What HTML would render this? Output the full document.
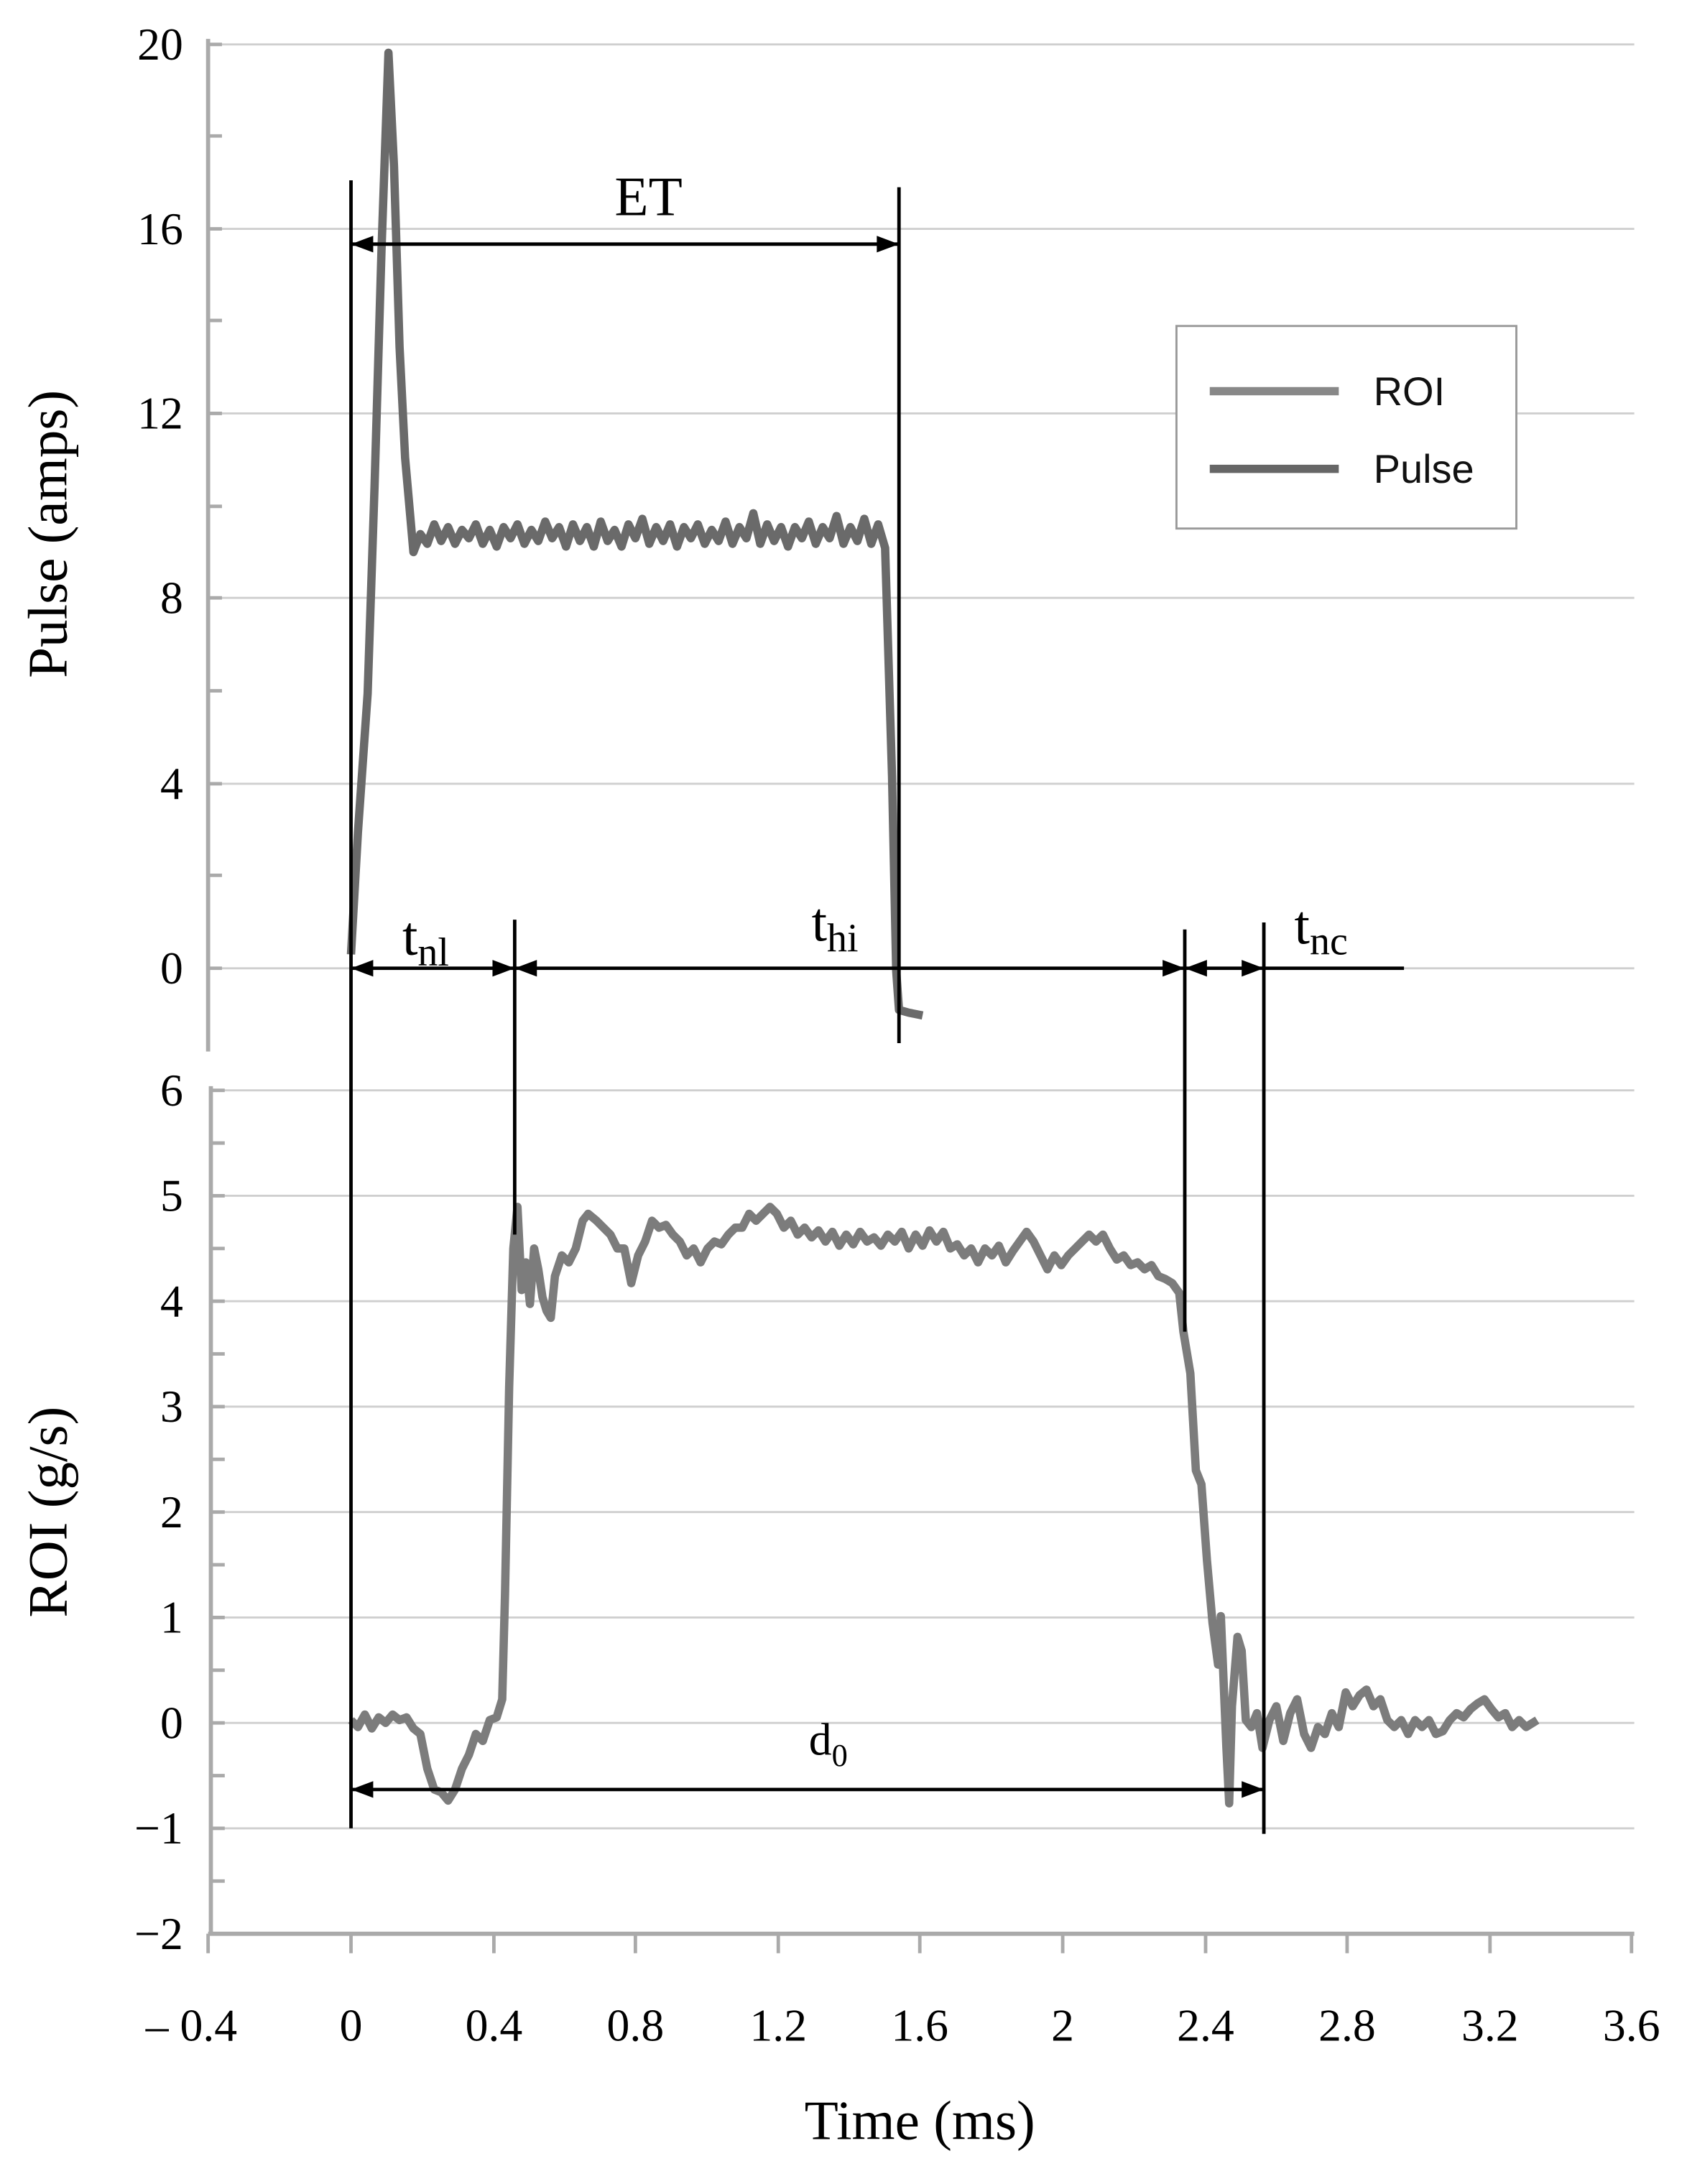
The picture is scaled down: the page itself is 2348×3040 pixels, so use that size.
<!DOCTYPE html>
<html><head><meta charset="utf-8"><style>html,body{margin:0;padding:0;background:#fff}svg{display:block}</style></head>
<body>
<svg width="2348" height="3040" viewBox="0 0 1216 1574.4" preserveAspectRatio="none" xmlns="http://www.w3.org/2000/svg" font-family="Liberation Serif, serif">
<rect width="1216" height="1575" fill="#fff"/>
<g stroke="#cfcfcf" stroke-width="1.5">
<line x1="150" y1="32" x2="1178" y2="32"/><line x1="150" y1="165" x2="1178" y2="165"/><line x1="150" y1="298" x2="1178" y2="298"/><line x1="150" y1="431" x2="1178" y2="431"/><line x1="150" y1="565" x2="1178" y2="565"/><line x1="150" y1="698" x2="1178" y2="698"/>
<line x1="152" y1="786" x2="1178" y2="786"/><line x1="152" y1="862" x2="1178" y2="862"/><line x1="152" y1="938" x2="1178" y2="938"/><line x1="152" y1="1014" x2="1178" y2="1014"/><line x1="152" y1="1090" x2="1178" y2="1090"/><line x1="152" y1="1166" x2="1178" y2="1166"/><line x1="152" y1="1242" x2="1178" y2="1242"/><line x1="152" y1="1318" x2="1178" y2="1318"/>
</g>
<g stroke="#aaa" stroke-width="3">
<line x1="150" y1="28" x2="150" y2="758"/>
<line x1="152" y1="783" x2="152" y2="1394"/>
<line x1="150" y1="1394" x2="1178" y2="1394"/>
</g>
<g stroke="#aaa" stroke-width="2.5">
<path d="M150 98h10M150 231h10M150 365h10M150 498h10M150 631h10M150 32h10M150 165h10M150 298h10M150 431h10M150 565h10M150 698h10"/>
<path d="M152 824h10M152 900h10M152 976h10M152 1052h10M152 1128h10M152 1204h10M152 1280h10M152 1356h10M152 786h10M152 862h10M152 938h10M152 1014h10M152 1090h10M152 1166h10M152 1242h10M152 1318h10"/>
<path d="M150 1394v14M253 1394v14M356 1394v14M458 1394v14M561 1394v14M663 1394v14M766 1394v14M869 1394v14M971 1394v14M1074 1394v14M1176 1394v14"/>
</g>
<g font-size="33" fill="#000" text-anchor="end">
<text x="132" y="43">20</text><text x="132" y="176">16</text><text x="132" y="309">12</text><text x="132" y="442">8</text><text x="132" y="576">4</text><text x="132" y="709">0</text>
<text x="132" y="797">6</text><text x="132" y="873">5</text><text x="132" y="949">4</text><text x="132" y="1025">3</text><text x="132" y="1101">2</text><text x="132" y="1177">1</text><text x="132" y="1253">0</text><text x="132" y="1329">−1</text><text x="132" y="1405">−2</text>
</g>
<g font-size="33" fill="#000" text-anchor="middle">
<text x="138" y="1471">– 0.4</text><text x="253" y="1471">0</text><text x="356" y="1471">0.4</text><text x="458" y="1471">0.8</text><text x="561" y="1471">1.2</text><text x="663" y="1471">1.6</text><text x="766" y="1471">2</text><text x="869" y="1471">2.4</text><text x="971" y="1471">2.8</text><text x="1074" y="1471">3.2</text><text x="1176" y="1471">3.6</text>
<text x="663" y="1542" font-size="40">Time (ms)</text>
<text transform="translate(48,385) rotate(-90)" font-size="40">Pulse (amps)</text>
<text transform="translate(48,1090) rotate(-90)" font-size="40">ROI (g/s)</text>
</g>
<polyline fill="none" stroke="#6a6a6a" stroke-width="6" stroke-linejoin="round" points="253,688 258,600 265,500 270,350 275,180 280,38 284,120 288,250 292,330 298,398 303,385 308,392 313,378 318,390 323,380 328,392 333,382 338,388 343,378 348,392 353,382 358,394 363,380 368,388 373,378 378,392 383,382 388,390 393,376 398,388 403,380 408,394 413,378 418,390 423,380 428,394 433,376 438,390 443,382 448,394 453,378 458,388 463,374 468,392 473,380 478,390 483,378 488,394 493,380 498,388 503,378 508,392 513,382 518,390 523,376 528,392 533,380 538,388 543,370 548,392 553,378 558,390 563,380 568,394 573,380 578,388 583,376 588,392 593,380 598,388 603,372 608,392 613,380 618,390 623,374 628,392 633,378 638,395 643,560 646,700 648,728 655,730 665,732"/>
<polyline fill="none" stroke="#7c7c7c" stroke-width="6" stroke-linejoin="round" points="253,1240 258,1245 263,1236 268,1246 273,1238 278,1242 283,1236 288,1240 293,1238 298,1246 303,1250 308,1275 313,1290 318,1292 323,1298 328,1290 333,1275 338,1265 343,1250 348,1255 353,1240 358,1238 362,1225 364,1150 367,1000 370,900 373,870 376,930 379,910 382,940 385,900 388,915 391,935 394,945 397,950 400,920 405,905 410,910 415,900 420,880 424,875 430,880 435,885 440,890 445,900 450,900 455,925 460,905 465,895 470,880 475,885 480,883 485,890 490,895 495,905 500,900 505,910 510,900 515,895 520,897 525,890 530,885 535,885 540,875 545,880 550,875 555,870 560,875 565,885 570,880 575,890 580,885 585,892 590,887 595,895 600,888 605,898 610,890 615,897 620,888 625,895 630,892 635,898 640,890 645,895 650,888 655,900 660,890 665,898 670,887 675,895 680,888 685,900 690,897 695,905 700,900 705,910 710,900 715,905 720,898 725,910 730,902 735,895 740,888 745,895 750,905 755,915 760,905 765,912 770,905 775,900 780,895 785,890 790,895 795,890 800,900 805,908 810,905 815,912 820,910 825,915 830,912 835,920 840,922 845,925 850,932 853,960 858,990 862,1060 866,1070 870,1125 874,1170 878,1200 880,1165 884,1260 886,1300 888,1230 892,1180 895,1190 898,1240 902,1245 906,1235 910,1260 915,1240 920,1230 925,1255 930,1235 935,1225 940,1250 945,1260 950,1245 955,1250 960,1235 965,1245 970,1220 975,1230 980,1222 985,1218 990,1230 995,1225 1000,1240 1005,1245 1010,1240 1015,1250 1020,1240 1025,1245 1030,1240 1035,1250 1040,1248 1045,1240 1050,1235 1055,1238 1060,1232 1065,1228 1070,1225 1075,1232 1080,1238 1085,1235 1090,1245 1095,1240 1100,1245 1108,1240"/>
<g stroke="#000" stroke-width="2.5" fill="none">
<line x1="253" y1="130" x2="253" y2="1318"/>
<line x1="648" y1="135" x2="648" y2="752"/>
<line x1="371" y1="663" x2="371" y2="890"/>
<line x1="854" y1="670" x2="854" y2="960"/>
<line x1="911" y1="665" x2="911" y2="1322"/>
<line x1="253" y1="176" x2="648" y2="176"/>
<line x1="253" y1="698" x2="1012" y2="698"/>
<line x1="253" y1="1290" x2="911" y2="1290"/>
</g>
<g fill="#000">
<path d="M253 176l16-6v12zM648 176l-16-6v12z"/>
<path d="M253 698l16-6v12zM371 698l-16-6v12zM371 698l16-6v12zM854 698l-16-6v12zM854 698l16-6v12zM911 698l-16-6v12z"/>
<path d="M253 1290l16-6v12zM911 1290l-16-6v12z"/>
</g>
<g fill="#000" font-size="40">
<text x="443" y="155">ET</text>
<text x="290" y="688">t<tspan font-size="29" dy="8">nl</tspan></text>
<text x="585" y="678">t<tspan font-size="29" dy="8">hi</tspan></text>
<text x="933" y="680">t<tspan font-size="29" dy="8">nc</tspan></text>
<text x="583" y="1265" font-size="33">d<tspan font-size="23" dy="8">0</tspan></text>
</g>
<rect x="848" y="235" width="245" height="146" fill="#fff" stroke="#999" stroke-width="1.5"/>
<line x1="872" y1="282" x2="965" y2="282" stroke="#888" stroke-width="6"/>
<line x1="872" y1="338" x2="965" y2="338" stroke="#666" stroke-width="6"/>
<g font-family="Liberation Sans, sans-serif" font-size="29" fill="#111">
<text x="990" y="292">ROI</text><text x="990" y="348">Pulse</text>
</g>
</svg>
</body></html>
